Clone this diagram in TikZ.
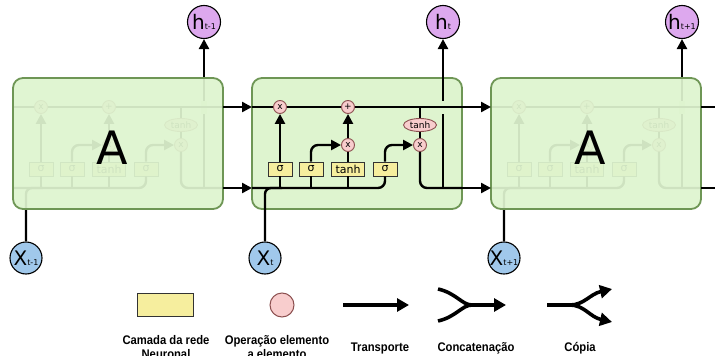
\documentclass[tikz,border=0pt]{standalone}
\usepackage{fontspec}
\setmainfont{DejaVu Sans}
\newfontfamily\lgfont[FakeStretch=0.9]{Liberation Sans}
\usetikzlibrary{arrows.meta,shapes.geometric}
\definecolor{cellfill}{RGB}{222,244,207}
\definecolor{cellline}{RGB}{110,150,85}
\definecolor{gateyel}{RGB}{246,238,158}
\definecolor{oppink}{RGB}{248,205,205}
\definecolor{opline}{RGB}{140,80,80}
\definecolor{hviol}{RGB}{221,168,238}
\definecolor{xblue}{RGB}{160,200,235}
\tikzset{
  wire/.style={line width=2.4pt, black},
  arr/.style={wire, -{Triangle[length=10pt,width=10pt]}},
  legwire/.style={line width=3.6pt, black},
  legarr/.style={legwire, -{Triangle[length=12pt,width=13pt]}},
  opnode/.style={circle, draw=opline, fill=oppink, line width=0.9pt, minimum size=13pt, inner sep=0pt, font=\fontsize{9}{9}\selectfont},
  tanhnode/.style={ellipse, draw=opline, fill=oppink, line width=0.9pt, minimum width=33pt, minimum height=13pt, inner sep=0pt, font=\fontsize{9}{9}\selectfont},
  gatebox/.style={rectangle, draw=black!80, fill=gateyel, line width=0.9pt, minimum height=14pt, minimum width=24pt, inner sep=0pt, font=\fontsize{11}{11}\selectfont},
  hnode/.style={circle, draw=black, fill=hviol, line width=1.1pt, minimum size=33pt, inner sep=0pt},
  xnode/.style={circle, draw=black, fill=xblue, line width=1.1pt, minimum size=32pt, inner sep=0pt},
  legtext/.style={anchor=base, font=\lgfont\bfseries\fontsize{12.5}{13}\selectfont, inner sep=0pt},
  cellbox/.style={draw=cellline, line width=1.8pt, fill=cellfill, rounded corners=10pt},
}
\newcommand\lstmwires[2]{%
  \coordinate (cin) at (0,29);
  \coordinate (cout) at (210,29);
  \coordinate (hin) at (0,110);
  \coordinate (hout) at (210,110);
  \coordinate (hv) at (191,110);
  \coordinate (ctap) at (168,29);
  \node[opnode] (fx) at (28,29) {x};
  \node[opnode] (ad) at (96,29) {+};
  \node[opnode] (ix) at (96,67) {x};
  \node[tanhnode] (th) at (168,47) {tanh};
  \node[opnode] (ox) at (168,67) {x};
  \node[gatebox] (g1) at (28,91) {σ};
  \node[gatebox] (g2) at (59,91) {σ};
  \node[gatebox, minimum width=33pt] (g3) at (96,91) {tanh};
  \node[gatebox] (g4) at (133,91) {σ};
  \node[hnode] (hc) at (191,-56) {{\fontsize{20}{20}\selectfont h}{\fontsize{8}{8}\selectfont #1}};
  \node[xnode] (xc) at (13,180) {{\fontsize{20}{20}\selectfont X}{\fontsize{8}{8}\selectfont #2}};
  % output hidden path
  \draw[arr] (hv) -- (hc.south);
  \draw[cellfill, line width=13pt] (188,29) -- (194,29);
  % cell state line
  \draw[wire] (cin) -- (fx.west);
  \draw[wire] (fx.east) -- (ad.west);
  \draw[wire] (ad.east) -- (cout);
  % hidden / input line
  \draw[wire, rounded corners=7pt] (hin) -| (g4.south);
  \draw[wire, rounded corners=6pt] (xc.north) |- (30,110);
  \draw[wire] (g1 |- hin) -- (g1.south);
  \draw[wire] (g2 |- hin) -- (g2.south);
  \draw[wire] (g3 |- hin) -- (g3.south);
  \draw[arr] (g1.north) -- (fx.south);
  \draw[arr, rounded corners=7pt] (g2.north) |- (ix.west);
  \draw[wire] (g3.north) -- (ix.south);
  \draw[arr] (ix.north) -- (ad.south);
  \draw[arr, rounded corners=7pt] (g4.north) |- (ox.west);
  \draw[wire] (ctap) -- (th.north);
  \draw[wire] (th.south) -- (ox.north);
  \draw[wire, rounded corners=7pt] (ox.south) |- (hout);
}
\begin{document}
\begin{tikzpicture}[x=1pt,y=-1pt]
\useasboundingbox (0,0) rectangle (715,356);
\clip (0,0) rectangle (715,356);
% left cell (faded)
\begin{scope}[shift={(13,78)}, name prefix=L-]
  \lstmwires{t-1}{t-1}
  \draw[cellbox, fill opacity=0.93] (0,0) rectangle (210,131);
  \node[font=\fontsize{46}{46}\selectfont, inner sep=0pt] (A) at (99,70) {A};
\end{scope}
% middle cell
\begin{scope}[shift={(252,78)}, name prefix=M-]
  \draw[cellbox] (0,0) rectangle (210,131);
  \lstmwires{t}{t}
\end{scope}
% right cell (faded)
\begin{scope}[shift={(491,78)}, name prefix=R-]
  \lstmwires{t+1}{t+1}
  \draw[cellbox, fill opacity=0.93] (0,0) rectangle (210,131);
  \node[font=\fontsize{46}{46}\selectfont, inner sep=0pt] (A) at (99,70) {A};
  \coordinate (nxc) at (239,29);
  \coordinate (nxh) at (239,110);
\end{scope}
% connections between cells
\draw[arr] (L-cout) -- (M-cin);
\draw[arr] (L-hout) -- (M-hin);
\draw[arr] (M-cout) -- (R-cin);
\draw[arr] (M-hout) -- (R-hin);
\draw[arr] (R-cout) -- (R-nxc);
\draw[arr] (R-hout) -- (R-nxh);
% legend
\node[gatebox, minimum width=56pt, minimum height=23pt] (lg1) at (165,305) {};
\node[circle, draw=opline, fill=oppink, line width=1pt, minimum width=22pt, minimum height=24pt, inner sep=0pt] (lg2) at (282,305) {};
\coordinate (t1) at (343,305);
\coordinate (t2) at (409,305);
\draw[legarr] (t1) -- (t2);
\coordinate (c1) at (438,289);
\coordinate (c2) at (438,321);
\coordinate (c3) at (472,305);
\coordinate (c4) at (506,305);
\draw[legwire] (c1) .. controls (456,293) and (462,305) .. (c3);
\draw[legwire] (c2) .. controls (456,317) and (462,305) .. (c3);
\draw[legarr] (c3) -- (c4);
\coordinate (p1) at (547,305);
\coordinate (p2) at (570,305);
\coordinate (p3) at (612,289);
\coordinate (p4) at (612,322);
\draw[legwire] (p1) -- (p2);
\draw[legarr] (p2) .. controls (584,305) and (590,294) .. (p3);
\draw[legarr] (p2) .. controls (584,305) and (590,317) .. (p4);
\node[legtext] (l1a) at (166,344) {Camada da rede};
\node[legtext] (l1b) at (166,358) {Neuronal};
\node[legtext] (l2a) at (277,344) {Operação elemento};
\node[legtext] (l2b) at (277,358) {a elemento};
\node[legtext] (l3) at (380,351) {Transporte};
\node[legtext] (l4) at (476,351) {Concatenação};
\node[legtext] (l5) at (580,351) {Cópia};
\end{tikzpicture}
\end{document}
